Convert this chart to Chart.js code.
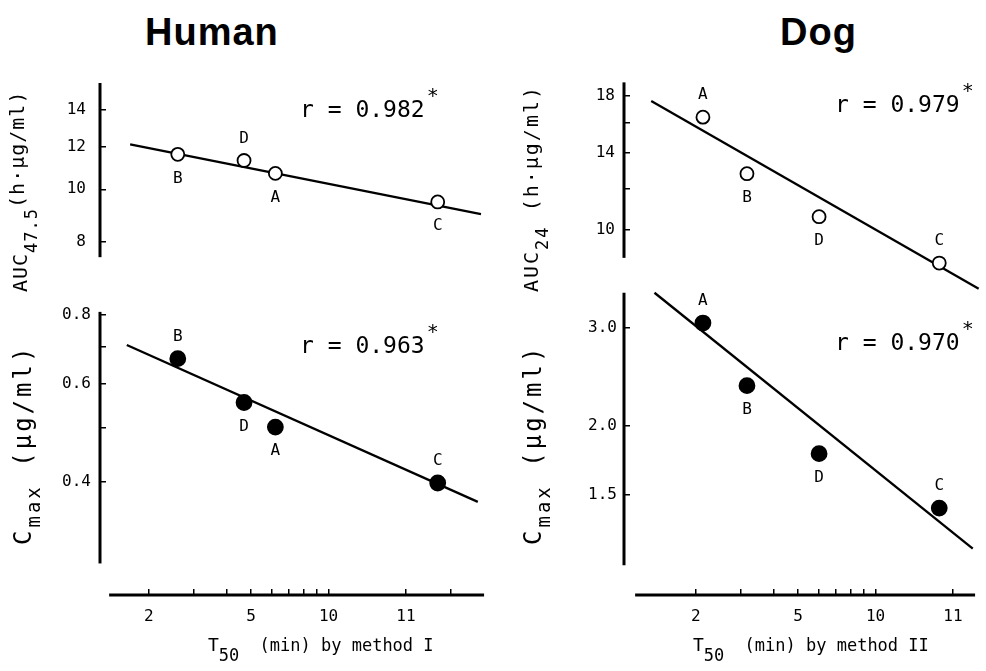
<!DOCTYPE html>
<html>
<head>
<meta charset="utf-8">
<script src="https://cdn.jsdelivr.net/npm/chart.js@4.4.0/dist/chart.umd.min.js"></script>
<style>
  body { margin: 0; background: #fff; }
  #page { position: relative; width: 986px; height: 671px; overflow: hidden; color: #000;
          font-family: "DejaVu Sans Mono", monospace; }
  #page canvas { position: absolute; }
  .title { position: absolute; font: bold 38px "Liberation Sans", Arial, sans-serif; line-height: 38px; letter-spacing: 1px; }
  .rval { position: absolute; font-size: 23px; line-height: 23px; white-space: nowrap; }
  .star { position: relative; top: -15px; font-size: 20px; margin-left: 2px; }
  .xtitle { position: absolute; font-size: 17px; line-height: 17px; white-space: nowrap; }
  .xtitle .big { font-size: 18px; }
  .xtitle .rest { margin-left: 10px; }
  .ytitle { position: absolute; font-size: 20px; line-height: 20px; white-space: nowrap;
            transform: rotate(-90deg); transform-origin: 0 0; }
  .ytitle.cmax { font-size: 24px; line-height: 24px; letter-spacing: 3px; }
  .sub { position: relative; top: 10px; font-size: 17px; }
  .cmax .sub { font-size: 19px; top: 9px; }
  .up { position: relative; top: -3px; }
</style>
</head>
<body>
<div id="page">
  <div class="title" style="left:145px; top:13px;">Human</div>
  <div class="title" style="left:780px; top:13px;">Dog</div>

  <canvas id="human-auc" width="492" height="222" style="left:0; top:70px;"></canvas>
  <canvas id="human-cmax" width="492" height="355" style="left:0; top:280px;"></canvas>
  <canvas id="dog-auc" width="462" height="222" style="left:524px; top:70px;"></canvas>
  <canvas id="dog-cmax" width="462" height="355" style="left:524px; top:280px;"></canvas>

  <div class="rval" style="left:300px; top:98px;">r = 0.982<span class="star">*</span></div>
  <div class="rval" style="left:300px; top:334px;">r = 0.963<span class="star">*</span></div>
  <div class="rval" style="left:835px; top:93px;">r = 0.979<span class="star">*</span></div>
  <div class="rval" style="left:835px; top:331px;">r = 0.970<span class="star">*</span></div>

  <div class="ytitle" style="left:10px; top:292px; letter-spacing:1px;">AUC<span class="sub">47.5</span><span class="up">(h·µg/ml)</span></div>
  <div class="ytitle cmax" style="left:11px; top:545px;">C<span class="sub">max</span> (µg/ml)</div>
  <div class="ytitle" style="left:521px; top:292px; letter-spacing:2px;">AUC<span class="sub">24</span> (h·µg/ml)</div>
  <div class="ytitle cmax" style="left:521px; top:545px;">C<span class="sub">max</span> (µg/ml)</div>

  <div class="xtitle" style="left:208px; top:636px;"><span class="big">T</span><span class="sub">50</span><span class="rest"> (min) by method I</span></div>
  <div class="xtitle" style="left:693px; top:636px;"><span class="big">T</span><span class="sub">50</span><span class="rest"> (min) by method II</span></div>
</div>

<script>
// formulations A, B, C, D
var pointNames = ["A", "B", "C", "D"];

// T50 (min), log axis
var t50Human = [6.21, 2.59, 26.6, 4.69];
var t50Dog = [2.13, 3.16, 17.7, 6.03];

var aucHuman = [10.7, 11.6, 9.48, 11.3];
var cmaxHuman = [0.502, 0.667, 0.398, 0.556];
var aucDog = [16.4, 12.8, 8.65, 10.6];
var cmaxDog = [3.06, 2.36, 1.42, 1.78];

// regression lines (end points)
var humanAucFitX = [1.69, 39.2], humanAucFitY = [12.1, 9.0];
var humanCmaxFitX = [1.64, 38.1], humanCmaxFitY = [0.706, 0.368];
var dogAucFitX = [1.34, 25.2], dogAucFitY = [17.6, 7.73];
var dogCmaxFitX = [1.38, 23.9], dogCmaxFitY = [3.47, 1.2];

// tick values and their printed labels
var humanXTicks = [2, 3, 4, 5, 6, 7, 8, 9, 10, 20, 30];
var humanXTickText = ["2", "", "", "5", "", "", "", "", "10", "11", ""];
var dogXTicks = [2, 3, 4, 5, 6, 7, 8, 9, 10, 20];
var dogXTickText = ["2", "", "", "5", "", "", "", "", "10", "11"];
var humanAucTicks = [8, 10, 12, 14];
var humanAucTickText = ["8", "10", "12", "14"];
var humanCmaxTicks = [0.4, 0.5, 0.6, 0.7, 0.8];
var humanCmaxTickText = ["0.4", "", "0.6", "", "0.8"];
var dogAucTicks = [10, 12, 14, 16, 18];
var dogAucTickText = ["10", "", "14", "", "18"];
var dogCmaxTicks = [1.5, 2, 3];
var dogCmaxTickText = ["1.5", "2.0", "3.0"];

// letter placement around each point
var humanAucLabelPos = ["below", "below", "below", "above"];
var humanCmaxLabelPos = ["below", "above", "above", "below"];
var dogAucLabelPos = ["above", "below", "above", "below"];
var dogCmaxLabelPos = ["above", "below", "above", "below"];

var tickFont = { family: "DejaVu Sans Mono", size: 16 };

// thick axis lines that only cover part of the plot area
var axisLines = {
  id: "axisLines",
  afterDraw: function (chart, args, opts) {
    var c = chart.ctx, area = chart.chartArea;
    c.save();
    c.strokeStyle = "#000";
    c.lineWidth = 3;
    if (opts.y) {
      var ys = chart.scales.y;
      c.beginPath();
      c.moveTo(area.left, ys.getPixelForValue(opts.y[0]));
      c.lineTo(area.left, ys.getPixelForValue(opts.y[1]));
      c.stroke();
    }
    if (opts.x) {
      var xs = chart.scales.x;
      c.beginPath();
      c.moveTo(xs.getPixelForValue(opts.x[0]), area.bottom);
      c.lineTo(xs.getPixelForValue(opts.x[1]), area.bottom);
      c.stroke();
    }
    c.restore();
  },
};

// A/B/C/D next to the points
var pointLetters = {
  id: "pointLetters",
  afterDatasetsDraw: function (chart, args, opts) {
    var c = chart.ctx;
    var meta = chart.getDatasetMeta(0);
    c.save();
    c.fillStyle = "#000";
    c.font = "16px 'DejaVu Sans Mono'";
    c.textAlign = "center";
    c.textBaseline = "middle";
    meta.data.forEach(function (pt, i) {
      var dy = opts.pos[i] == "above" ? -22 : 24;
      c.fillText(pointNames[i], pt.x, pt.y + dy);
    });
    c.restore();
  },
};

function makePanel(id, t50, vals, fitX, fitY, opts) {
  var pts = t50.map(function (t, i) { return { x: t, y: vals[i] }; });
  var fit = fitX.map(function (t, i) { return { x: t, y: fitY[i] }; });
  return new Chart(document.getElementById(id), {
    type: "scatter",
    data: {
      datasets: [
        {
          data: pts,
          pointRadius: opts.filled ? 7.5 : 6.5,
          pointBorderWidth: 1.8,
          pointBorderColor: "#000",
          pointBackgroundColor: opts.filled ? "#000" : "#fff",
        },
        {
          data: fit,
          showLine: true,
          pointRadius: 0,
          borderColor: "#000",
          borderWidth: 2.3,
        },
      ],
    },
    options: {
      responsive: false,
      animation: false,
      layout: { autoPadding: false, padding: { top: 10, right: opts.padRight, left: 0, bottom: 0 } },
      plugins: {
        legend: { display: false },
        tooltip: { enabled: false },
        axisLines: { x: opts.xLine, y: opts.yLine },
        pointLetters: { pos: opts.labelPos },
      },
      scales: {
        x: {
          type: "logarithmic",
          display: opts.showX,
          min: opts.xRange[0],
          max: opts.xRange[1],
          afterBuildTicks: function (s) {
            s.ticks = opts.xTicks.map(function (v) { return { value: v }; });
          },
          // fixed axis size, no extra room for edge labels
          afterFit: function (s) {
            s.height = opts.showX ? 40 : 0;
            s.paddingLeft = 0;
            s.paddingRight = 0;
          },
          border: { display: false },
          // negative length puts the tick marks on the inner side
          grid: { drawOnChartArea: false, drawTicks: true, tickLength: -6, color: "#000", lineWidth: 1.5 },
          ticks: {
            autoSkip: false,
            maxRotation: 0,
            padding: 18,
            color: "#000",
            font: tickFont,
            callback: function (v, i) { return opts.xTickText[i]; },
          },
        },
        y: {
          type: "logarithmic",
          min: opts.yRange[0],
          max: opts.yRange[1],
          afterBuildTicks: function (s) {
            s.ticks = opts.yTicks.map(function (v) { return { value: v }; });
          },
          afterFit: function (s) {
            s.width = 100;
            s.paddingTop = 0;
            s.paddingBottom = 0;
          },
          border: { display: false },
          grid: { drawOnChartArea: false, drawTicks: true, tickLength: -6, color: "#000", lineWidth: 1.5 },
          ticks: {
            autoSkip: false,
            padding: opts.yPad,
            color: "#000",
            font: tickFont,
            callback: function (v, i) { return opts.yTickText[i]; },
          },
        },
      },
    },
    plugins: [axisLines, pointLetters],
  });
}

makePanel("human-auc", t50Human, aucHuman, humanAucFitX, humanAucFitY, {
  filled: false, showX: false, padRight: 2,
  xRange: [1.29, 42.5], yRange: [6.47, 15.9],
  yLine: [7.5, 15.7], xLine: null,
  xTicks: humanXTicks, xTickText: humanXTickText,
  yTicks: humanAucTicks, yTickText: humanAucTickText, yPad: 20,
  labelPos: humanAucLabelPos,
});
makePanel("human-cmax", t50Human, cmaxHuman, humanCmaxFitX, humanCmaxFitY, {
  filled: true, showX: true, padRight: 2,
  xRange: [1.29, 42.5], yRange: [0.252, 0.887],
  yLine: [0.285, 0.81], xLine: [1.4, 40.3],
  xTicks: humanXTicks, xTickText: humanXTickText,
  yTicks: humanCmaxTicks, yTickText: humanCmaxTickText, yPad: 15,
  labelPos: humanCmaxLabelPos,
});
makePanel("dog-auc", t50Dog, aucDog, dogAucFitX, dogAucFitY, {
  filled: false, showX: false, padRight: 6,
  xRange: [1.05, 25.5], yRange: [7.62, 19.3],
  yLine: [8.85, 19.1], xLine: null,
  xTicks: dogXTicks, xTickText: dogXTickText,
  yTicks: dogAucTicks, yTickText: dogAucTickText, yPad: 15,
  labelPos: dogAucLabelPos,
});
makePanel("dog-cmax", t50Dog, cmaxDog, dogCmaxFitX, dogCmaxFitY, {
  filled: true, showX: true, padRight: 6,
  xRange: [1.05, 25.5], yRange: [0.99, 3.51],
  yLine: [1.12, 3.47], xLine: [1.16, 24.4],
  xTicks: dogXTicks, xTickText: dogXTickText,
  yTicks: dogCmaxTicks, yTickText: dogCmaxTickText, yPad: 13,
  labelPos: dogCmaxLabelPos,
});
</script>
</body>
</html>
